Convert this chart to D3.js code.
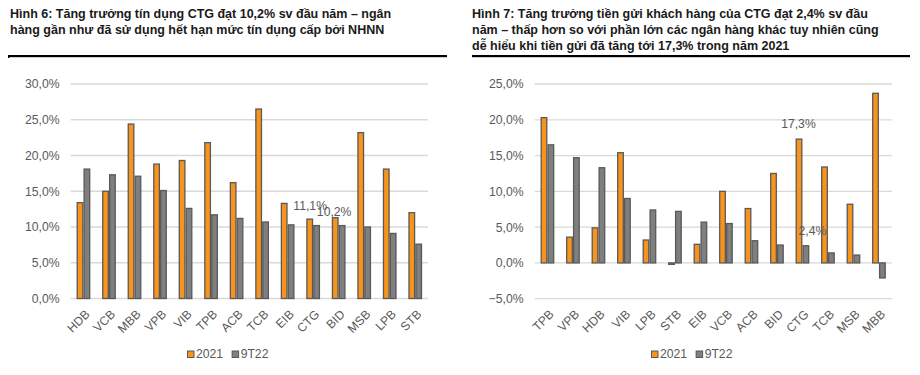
<!DOCTYPE html>
<html><head><meta charset="utf-8">
<script src="https://cdn.jsdelivr.net/npm/d3@7"></script>
<style>
body{margin:0;background:#fff;}
svg{display:block;font-family:"Liberation Sans",Arial,sans-serif;}
</style></head>
<body>
<svg id="c" width="920" height="375"></svg>
<script>
const title6 = ["Hình 6: Tăng trưởng tín dụng CTG đạt 10,2% sv đầu năm – ngân",
                "hàng gần như đã sử dụng hết hạn mức tín dụng cấp bởi NHNN"];
const title7 = ["Hình 7: Tăng trưởng tiền gửi khách hàng của CTG đạt 2,4% sv đầu",
                "năm – thấp hơn so với phần lớn các ngân hàng khác tuy nhiên cũng",
                "dễ hiểu khi tiền gửi đã tăng tới 17,3% trong năm 2021"];
const seriesNames = ["2021", "9T22"];

const creditBanks = ["HDB","VCB","MBB","VPB","VIB","TPB","ACB","TCB","EIB","CTG","BID","MSB","LPB","STB"];
const credit2021  = [13.4,15.0,24.4,18.8,19.3,21.8,16.2,26.5,13.3,11.1,11.3,23.2,18.1,12.0];
const credit9T22  = [18.1,17.3,17.1,15.1,12.6,11.7,11.2,10.7,10.3,10.2,10.2,10.0,9.1,7.6];
const creditTicks = [0,5,10,15,20,25,30];

const depositBanks = ["TPB","VPB","HDB","VIB","LPB","STB","EIB","VCB","ACB","BID","CTG","TCB","MSB","MBB"];
const deposit2021  = [20.3,3.6,4.9,15.4,3.2,-0.2,2.6,10.0,7.6,12.5,17.3,13.4,8.2,23.7];
const deposit9T22  = [16.5,14.7,13.3,9.0,7.4,7.2,5.7,5.5,3.1,2.5,2.4,1.4,1.1,-2.1];
const depositTicks = [-5,0,5,10,15,20,25];

const colors = ["#F7941D","#7F7F7F"];
const stroke = "#595959";
const txt = "#595959";
const fmt = v => d3.format(".1f")(v).replace(".", ",") + "%";

const svg = d3.select("#c");

function title(lines, x, y0, lineX1, lineX2, lineY){
  const t = svg.append("text").attr("font-weight","bold").attr("font-size",12.5).attr("fill","#1a1a1a");
  lines.forEach((l,i)=> t.append("tspan").attr("x",x).attr("y",y0+i*15.7).text(l));
  svg.append("rect").attr("x",lineX1).attr("y",lineY).attr("width",lineX2-lineX1).attr("height",2.2).attr("fill","#000");
}

function chart(opts){
  const {banks, s1, s2, ticks, x0, x1, yDomain, yRange, labelX, labels, legendX} = opts;
  const g = svg.append("g");
  const x = d3.scaleBand().domain(banks).range([x0,x1]);
  const y = d3.scaleLinear().domain(yDomain).range(yRange);
  g.selectAll(".grid").data(ticks).join("line")
    .attr("x1",x0).attr("x2",x1).attr("y1",d=>y(d)).attr("y2",d=>y(d))
    .attr("stroke","#d9d9d9").attr("stroke-width",1.3);
  const ya = d3.axisLeft(y).tickValues(ticks).tickFormat(fmt).tickSize(0).tickPadding(0);
  const yg = g.append("g").attr("transform",`translate(${labelX},0)`).call(ya);
  yg.select(".domain").remove();
  yg.selectAll("text").attr("fill",txt).attr("font-size",12.2).attr("font-family","Liberation Sans, Arial, sans-serif");
  const bw = 5.6, gap = 1.3;
  [s1,s2].forEach((s,si)=>{
    g.selectAll(".b"+si).data(banks).join("rect")
      .attr("x",d=> x(d)+x.bandwidth()/2 + (si===0 ? -bw-gap/2 : gap/2))
      .attr("width",bw)
      .attr("y",(d,i)=> y(Math.max(0,s[i])))
      .attr("height",(d,i)=> Math.max(0.8, Math.abs(y(s[i])-y(0))))
      .attr("fill",colors[si]).attr("stroke",stroke).attr("stroke-width",1.3);
  });
  const xa = d3.axisBottom(x).tickSize(0).tickPadding(0);
  const xg = g.append("g").attr("transform",`translate(0,${opts.xLabelY})`).call(xa);
  xg.select(".domain").remove();
  xg.selectAll("text").attr("fill",txt).attr("font-size",12.2).attr("font-family","Liberation Sans, Arial, sans-serif")
    .attr("text-anchor","end").attr("dy","0.35em")
    .attr("transform","translate(4,0) rotate(-45)");
  labels.forEach(l=>{
    const i = banks.indexOf(l.bank);
    const val = l.series===0 ? s1[i] : s2[i];
    g.append("text").attr("x", x(l.bank)+x.bandwidth()/2 + l.dx).attr("y", y(val)+l.dy)
      .attr("text-anchor","middle").attr("font-size",12.2).attr("fill",txt).text(fmt(val));
  });
  const lg = g.append("g").attr("transform",`translate(${legendX},${opts.legendY})`);
  let cx = 0;
  seriesNames.forEach((n,i)=>{
    lg.append("rect").attr("x",cx).attr("y",-7).attr("width",6.5).attr("height",6.5)
      .attr("fill",colors[i]).attr("stroke",stroke).attr("stroke-width",1);
    const t = lg.append("text").attr("x",cx+8.5).attr("y",0).attr("font-size",12.2).attr("fill",txt).text(n);
    cx += 8.5 + t.node().getComputedTextLength() + 9;
  });
}

title(title6, 10, 18.3, 8, 447, 55);
svg.append("rect").attr("x",8).attr("y",55).attr("width",1.5).attr("height",3).attr("fill","#000");
title(title7, 472, 18.3, 472, 910, 55);

chart({banks:creditBanks, s1:credit2021, s2:credit9T22, ticks:creditTicks,
  x0:70.7, x1:428, yDomain:[0,30], yRange:[298.5,84], labelX:59.5, xLabelY:312,
  labels:[{bank:"CTG",series:0,dx:-3,dy:-9},{bank:"CTG",series:1,dx:21,dy:-9.5}],
  legendX:187.5, legendY:358});

chart({banks:depositBanks, s1:deposit2021, s2:deposit9T22, ticks:depositTicks,
  x0:534.7, x1:891.7, yDomain:[-5,25], yRange:[298.7,84], labelX:523.5, xLabelY:312,
  labels:[{bank:"CTG",series:0,dx:-4,dy:-11},{bank:"CTG",series:1,dx:10,dy:-11}],
  legendX:651.5, legendY:358});
</script>
</body></html>
